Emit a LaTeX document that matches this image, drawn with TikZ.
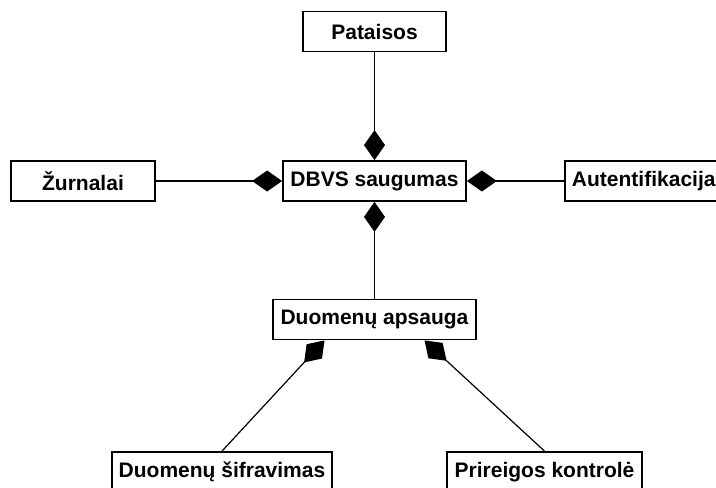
\documentclass[tikz,border=0pt]{standalone}
\usepackage{fontspec}
\setmainfont[Ligatures=NoCommon]{Liberation Sans}
\usetikzlibrary{arrows.meta}
\begin{document}
\begin{tikzpicture}[x=0.5pt,y=-0.5pt,
  box/.style={draw, line width=0.9pt, fill=white, inner sep=0pt,
    minimum height=20pt, font=\fontsize{10.5pt}{12pt}\selectfont\bfseries},
  comp/.style={line width=0.6pt, -{Diamond[length=15pt,width=10.5pt]}}]
\useasboundingbox (0,0) rectangle (716,487);
\clip (0,0) rectangle (716,487);

% components
\node[box, minimum width=71.5pt]  (pat)  at (374.5,31.5) {Pataisos};
\node[box, minimum width=72pt]    (zur)  at (83,181)     {Žurnalai};
\node[box, minimum width=91.5pt]  (dbvs) at (374.5,181)  {DBVS saugumas};
\node[box, minimum width=78.75pt] (aut)  at (643.75,181) {Autentifikacija};
\node[box, minimum width=101.5pt] (dap)  at (374.5,319.5) {Duomenų apsauga};
\node[box, minimum width=110pt]   (sif)  at (222,472)    {Duomenų šifravimas};
\node[box, minimum width=97.5pt]  (pk)   at (544.5,472)  {Prireigos kontrolė};

% composition links
\draw[comp] (pat)  -- (dbvs);
\draw[comp] (zur)  -- (dbvs);
\draw[comp] (aut)  -- (dbvs);
\draw[comp] (dap)  -- (dbvs);
\draw[comp] (sif.north) -- ([xshift=-25pt]dap.south);
\draw[comp] (pk.north)  -- ([xshift=25pt]dap.south);
\end{tikzpicture}
\end{document}
